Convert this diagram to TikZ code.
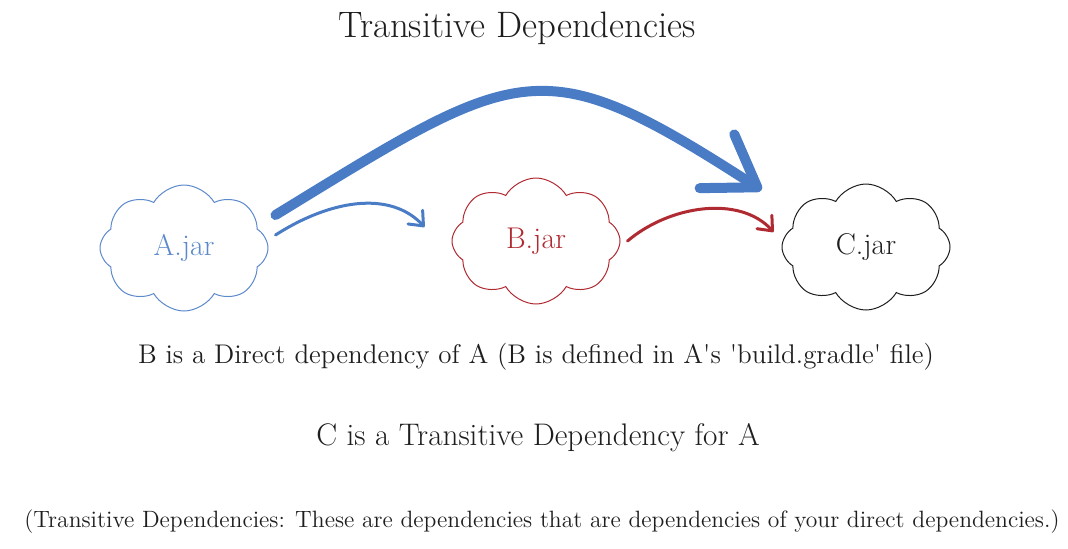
\documentclass[tikz,border=0pt]{standalone}
\usepackage{tikz}
\usetikzlibrary{arrows.meta,shapes.symbols}
\definecolor{jarblue}{HTML}{4A7CC6}
\definecolor{jarred}{HTML}{B02A32}
\definecolor{ink}{HTML}{1E1E1E}
\tikzset{
  jar/.style={cloud, cloud puffs=8, cloud puff arc=120, aspect=1.35, draw, line width=0.5pt,
              minimum width=84pt, minimum height=63pt, inner sep=0pt, font=\fontsize{15}{17}\selectfont},
  dep/.style={-{Straight Barb[length=6pt,width=10pt,round]}, line width=1.5pt, line cap=round},
  trans/.style={-{Straight Barb[length=24pt,width=32pt,round]}, line width=5pt, line cap=round, jarblue},
  note/.style={text=ink, inner sep=0pt}
}

\begin{document}
\begin{tikzpicture}[x=0.5pt, y=-0.5pt]
\useasboundingbox (0,0) rectangle (1068,548);
\node[note, font=\fontsize{18.4}{21}\selectfont] (title) at (517,28) {Transitive Dependencies};
\node[jar, jarblue!90!white] (ajar) at (184,248) {A.jar};
\node[jar, jarred] (bjar) at (536,241) {B.jar};
\node[jar, ink] (cjar) at (866,247) {C.jar};
\draw[trans] ([shift={(7,-33)}]ajar.east) .. controls (522,64) and (540,47) .. ([shift={(-20,-57)}]cjar.west);
\draw[dep, jarblue] ([shift={(7,-13)}]ajar.east) .. controls (330,200) and (390,190) .. ([shift={(-27,-14)}]bjar.west);
\draw[dep, jarred] ([shift={(7,0)}]bjar.east) .. controls (670,205) and (740,195) .. ([shift={(-8,-15)}]cjar.west);
\node[note, font=\fontsize{13.5}{16}\selectfont] (direct) at (536,357) {B is a Direct dependency of A (B is defined in A\textquotesingle s \textquotesingle build.gradle\textquotesingle{} file)};
\node[note, font=\fontsize{15.6}{18}\selectfont] (transitive) at (538,438) {C is a Transitive Dependency for A};
\node[note, font=\fontsize{11.8}{14}\selectfont] (explain) at (542,522) {(Transitive Dependencies: These are dependencies that are dependencies of your direct dependencies.)};
\end{tikzpicture}
\end{document}
